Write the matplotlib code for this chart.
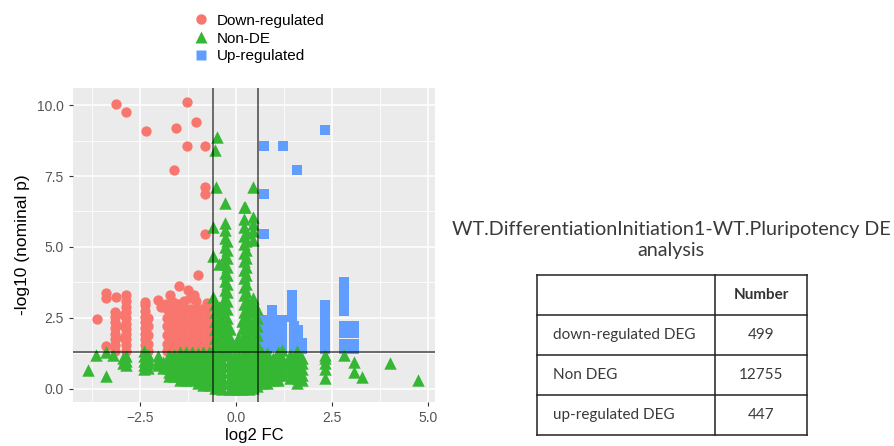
import matplotlib
matplotlib.use("Agg")
from matplotlib import pyplot as plt
from matplotlib.lines import Line2D

# ---- data ----
down_pts = [(-3.12, 10.03), (-2.85, 9.74), (-1.28, 10.1), (-2.35, 9.1), (-1.55, 9.2),
            (-1.04, 9.39), (-1.27, 8.55), (-0.8, 8.55), (-1.61, 7.71), (-0.8, 7.12),
            (-0.8, 6.87), (-0.8, 5.46), (-1.0, 4.0), (-1.48, 3.63), (-3.62, 2.45),
            (-3.37, 3.38), (-3.37, 3.22), (-3.13, 3.25), (-2.85, 3.3), (-2.02, 3.13),
            (-1.72, 3.3), (-1.25, 3.5), (-1.1, 3.3), (-1.81, 3.0), (-0.76, 3.02),
            (-3.37, 1.5), (-1.95, 2.9)]
down_cols = [(-3.15, [1.35, 1.55, 1.75, 1.95, 2.15, 2.35, 2.55, 2.72]),
             (-2.85, [1.35, 1.55, 1.75, 1.95, 2.1, 2.3, 2.5, 2.7, 2.9, 3.1]),
             (-2.9, [1.8, 2.2, 2.6]),
             (-2.37, [1.35, 1.55, 1.75, 1.95, 2.15, 2.35, 2.55, 2.75, 2.95, 3.07]),
             (-2.3, [1.35, 1.6, 1.9, 2.2, 2.5]),
             (-1.8, [1.35, 1.6, 1.9, 2.2, 2.5, 2.8]),
             (-1.65, [1.35, 1.6, 1.9, 2.2, 2.5, 2.8, 3.05]),
             (-1.5, [1.35, 1.6, 1.9, 2.2, 2.5, 2.8, 3.0]),
             (-1.35, [1.35, 1.6, 1.9, 2.2, 2.5, 2.8, 3.1]),
             (-1.2, [1.35, 1.6, 1.9, 2.2, 2.5, 2.8, 3.2]),
             (-1.05, [1.35, 1.6, 1.9, 2.2, 2.5, 2.8, 3.1]),
             (-0.9, [1.35, 1.6, 1.9, 2.2, 2.5, 2.8]),
             (-0.75, [1.35, 1.6, 1.9, 2.2, 2.5, 2.8]),
             (-0.66, [1.35, 1.6, 1.9, 2.2, 2.5])]

non_pts = [(-3.85, 0.67), (-3.37, 0.45), (-3.63, 1.2), (-3.37, 1.3), (-3.2, 1.2),
           (4.01, 0.9), (4.75, 0.32), (3.27, 0.43), (3.06, 0.96), (3.06, 0.6),
           (2.8, 1.2), (-0.5, 8.88), (-0.55, 8.42), (-0.52, 7.12), (0.45, 7.12),
           (-0.29, 6.54), (0.23, 6.42), (-0.59, 5.7), (-0.59, 4.7), (-0.59, 3.25),
           (0.45, 3.2), (-0.45, 4.4)]
non_cols = [(-2.85, [0.85, 1.0, 1.15]),
            (-2.95, [0.9, 1.1]),
            (-2.4, [0.7, 0.85, 1.0, 1.15, 1.35]),
            (-2.3, [0.75, 0.9, 1.05, 1.2]),
            (-2.02, [0.85, 1.0, 1.15]),
            (-1.9, [0.75, 0.95]),
            (-1.75, [0.45, 0.6, 0.75, 0.9, 1.05, 1.2]),
            (-1.6, [0.45, 0.6, 0.75, 0.9, 1.05, 1.2]),
            (-1.45, [0.3, 0.45, 0.6, 0.75, 0.9, 1.05, 1.2, 1.3]),
            (-1.3, [0.3, 0.45, 0.6, 0.75, 0.9, 1.05, 1.2, 1.3]),
            (-1.15, [0.3, 0.45, 0.6, 0.75, 0.9, 1.05, 1.2, 1.3]),
            (-1.0, [0.2, 0.35, 0.5, 0.65, 0.8, 0.95, 1.1, 1.25]),
            (-0.85, [0.15, 0.3, 0.45, 0.6, 0.75, 0.9, 1.05, 1.2, 1.3]),
            (-0.7, [0.15, 0.3, 0.45, 0.6, 0.75, 0.9, 1.05, 1.2, 1.3]),
            (-0.55, [0.05, 0.2, 0.4, 0.6, 0.8, 1.0, 1.2, 1.5, 1.8, 2.1, 2.4, 2.7, 3.0]),
            (-0.45, [0.05, 0.2, 0.4, 0.6, 0.8, 1.0, 1.2, 1.5, 1.8, 2.1, 2.4, 2.7, 2.9]),
            (-0.35, [0.0, 0.2, 0.4, 0.6, 0.8, 1.0, 1.2, 1.5, 1.8, 2.1, 2.4, 2.7, 3.0]),
            (-0.28, [3.2, 3.5, 3.8, 4.1, 4.4, 4.7, 5.0, 5.3, 5.6, 5.83]),
            (-0.22, [1.3, 1.6, 1.9, 2.2, 2.5, 2.8, 3.1, 3.4, 3.7, 4.0, 4.3, 4.6, 4.9, 5.2]),
            (-0.15, [0.0, 0.2, 0.4, 0.6, 0.8, 1.0, 1.2, 1.5, 1.8, 2.1]),
            (-0.05, [0.0, 0.2, 0.4, 0.6, 0.8, 1.0, 1.2, 1.5]),
            (0.05, [0.0, 0.2, 0.4, 0.6, 0.8, 1.0, 1.2, 1.5, 1.8]),
            (0.15, [0.0, 0.2, 0.4, 0.6, 0.8, 1.0, 1.2, 1.5, 1.8, 2.1, 2.4]),
            (0.2, [2.7, 3.0, 3.3, 3.6, 3.9, 4.2, 4.5, 4.8, 5.1, 5.4, 5.7, 6.0, 6.4]),
            (0.27, [1.3, 1.6, 1.9, 2.2, 2.5, 2.8, 3.1, 3.4, 3.7, 4.0, 4.3, 4.6, 4.9, 5.2, 5.5]),
            (0.35, [0.0, 0.2, 0.4, 0.6, 0.8, 1.0, 1.2, 1.5, 1.8, 2.1, 2.4, 2.7, 3.0]),
            (0.45, [0.05, 0.2, 0.4, 0.6, 0.8, 1.0, 1.2, 1.5, 1.8, 2.1, 2.4, 2.7, 3.0,
                    5.25, 5.55, 5.8, 6.07]),
            (0.55, [0.1, 0.3, 0.5, 0.7, 0.9, 1.1, 1.3, 1.6, 1.9, 2.2, 2.5, 2.8]),
            (0.68, [0.2, 0.35, 0.5, 0.65, 0.8, 0.95, 1.1, 1.25]),
            (0.82, [0.2, 0.35, 0.5, 0.65, 0.8, 0.95, 1.1, 1.25]),
            (0.96, [0.3, 0.5, 0.7, 0.9, 1.1]),
            (1.1, [0.3, 0.5, 0.7, 0.9, 1.1, 1.3]),
            (1.2, [0.5, 0.7, 0.9, 1.1, 1.37]),
            (1.4, [0.4, 0.6, 0.8, 1.0, 1.2]),
            (1.58, [0.2, 0.4, 0.6, 0.8, 1.0, 1.2, 1.35]),
            (1.72, [0.3, 0.5, 0.7, 0.9, 1.1]),
            (2.32, [0.38, 0.7, 0.9, 1.1, 1.2])]

up_pts = [(2.32, 9.12), (0.73, 8.56), (1.22, 8.56), (1.58, 7.71), (0.73, 6.87), (0.73, 5.46)]
up_cols = [(0.7, [1.4, 1.6, 1.8, 2.0, 2.2, 2.43]),
           (0.8, [1.4, 1.6, 1.8, 2.0]),
           (0.93, [1.6, 1.8, 2.0, 2.2, 2.4, 2.6, 2.78]),
           (1.05, [1.5, 1.75, 2.0]),
           (1.19, [1.4, 1.6, 1.8, 2.0, 2.2, 2.43]),
           (1.47, [2.55, 2.75, 2.95, 3.15, 3.31]),
           (1.5, [1.4, 1.6, 1.8, 2.0, 2.2]),
           (1.62, [1.8, 2.08]),
           (1.71, [1.4, 1.61]),
           (2.32, [1.4, 1.6, 1.8, 2.0, 2.2, 2.4, 2.6, 2.8, 2.96]),
           (2.8, [1.4, 1.6, 1.96, 2.1, 2.2, 2.75, 2.95, 3.15, 3.35, 3.55, 3.78]),
           (3.06, [1.4, 1.6, 1.96, 2.2])]

fc_cut = 0.585
p_cut = 1.301

title = "WT.DifferentiationInitiation1-WT.Pluripotency DE\nanalysis"
table_header = ["", "Number"]
table_rows = ["down-regulated DEG", "Non DEG", "up-regulated DEG"]
table_counts = ["499", "12755", "447"]

RED = "#F8766D"
GREEN = "#35B734"
BLUE = "#619CFF"


def flatten(pts, cols):
    xs = [p[0] for p in pts]
    ys = [p[1] for p in pts]
    for x, col in cols:
        xs += [x] * len(col)
        ys += col
    return xs, ys


plt.rcParams['font.family'] = ['Liberation Sans', 'DejaVu Sans']
fig = plt.figure(figsize=(8.95, 4.46), dpi=100)
ax = fig.add_axes([73 / 895, 44 / 446, 362 / 895, 314 / 446])
ax.set_facecolor("#EBEBEB")
for s in ax.spines.values():
    s.set_visible(False)

ax.set_xlim(-4.24, 5.18)
ax.set_ylim(-0.46, 10.6)
ax.set_xticks([-2.5, 0.0, 2.5, 5.0])
ax.set_yticks([0.0, 2.5, 5.0, 7.5, 10.0])
ax.set_xticks([-3.75, -1.25, 1.25, 3.75], minor=True)
ax.set_yticks([1.25, 3.75, 6.25, 8.75], minor=True)
ax.grid(which='major', color='white', lw=1.1)
ax.grid(which='minor', color='white', lw=0.55)
ax.set_axisbelow(True)
ax.tick_params(which='major', colors="#333333", labelcolor="#555555", labelsize=10, length=3, width=0.8)
ax.tick_params(which='minor', length=0)

dx, dy = flatten(down_pts, down_cols)
ux, uy = flatten(up_pts, up_cols)
nx, ny = flatten(non_pts, non_cols)
ax.scatter(dx, dy, s=55, marker='o', color=RED, lw=0, zorder=3)
ax.scatter(ux, uy, s=52, marker='s', color=BLUE, lw=0, zorder=3)
ax.scatter(nx, ny, s=80, marker='^', color=GREEN, lw=0, zorder=4)

for v in (-fc_cut, fc_cut):
    ax.axvline(v, color='black', alpha=0.7, lw=1.1, zorder=5)
ax.axhline(p_cut, color='black', alpha=0.7, lw=1.1, zorder=5)

ax.set_xlabel("log2 FC", fontsize=12, labelpad=2)
ax.set_ylabel("-log10 (nominal p)", fontsize=12.5, labelpad=5)

handles = [Line2D([], [], ls='', marker='o', ms=7.5, color=RED, mec='none'),
           Line2D([], [], ls='', marker='^', ms=9, color=GREEN, mec='none'),
           Line2D([], [], ls='', marker='s', ms=7, color=BLUE, mec='none')]
fig.legend(handles, ["Down-regulated", "Non-DE", "Up-regulated"], loc='upper left',
           bbox_to_anchor=(183 / 895, 1 - 3 / 446), frameon=False, fontsize=11,
           handlelength=1.0, handletextpad=0.5, labelspacing=0.25, borderpad=0.2)

# right-hand title and table
fig.text(671 / 895, 1 - 240 / 446, title, ha='center', va='center', fontsize=14.2,
         family=['Lato', 'DejaVu Sans'], color="#3a3a3a", linespacing=1.35)

tx0, tx1, tmid = 537, 807, 715
ty = [275, 315, 355, 395, 435]
tab = fig.add_axes([0, 0, 1, 1])
tab.set_xlim(0, 895)
tab.set_ylim(446, 0)
tab.axis('off')
for yy in ty:
    tab.plot([tx0, tx1], [yy, yy], color='#222222', lw=1.1)
for xx in (tx0, tmid, tx1):
    tab.plot([xx, xx], [ty[0], ty[-1]], color='#222222', lw=1.1)
tab.text((tmid + tx1) / 2, (ty[0] + ty[1]) / 2, table_header[1], ha='center', va='center',
         fontsize=11, fontweight='bold', family=['Lato', 'DejaVu Sans'], color='#333333')
for i, (name, cnt) in enumerate(zip(table_rows, table_counts)):
    yc = (ty[i + 1] + ty[i + 2]) / 2
    tab.text(tx0 + 16, yc, name, ha='left', va='center', fontsize=11,
             family=['Lato', 'DejaVu Sans'], color='#3a3a3a')
    tab.text((tmid + tx1) / 2, yc, cnt, ha='center', va='center', fontsize=11,
             family=['Lato', 'DejaVu Sans'], color='#3a3a3a')

fig.savefig("out.png", dpi=100)
